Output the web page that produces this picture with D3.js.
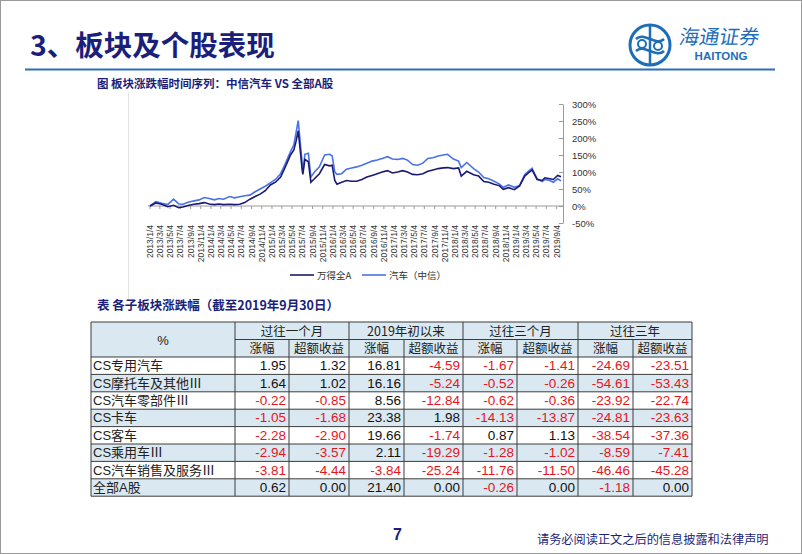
<!DOCTYPE html>
<html><head><meta charset="utf-8">
<script src="https://cdn.jsdelivr.net/npm/d3@7"></script>
<style>
body{margin:0;padding:0;background:#fff;}
svg{display:block;font-family:"Liberation Sans",Arial,"Noto Sans CJK SC",sans-serif;}
</style></head>
<body>
<svg id="c" width="802" height="554"></svg>
<script>
// ---------- DATA ----------
const dates = ["2013-01-04","2013-02-08","2013-03-15","2013-04-20","2013-05-25","2013-06-25","2013-07-20","2013-08-25","2013-09-25","2013-10-25","2013-11-25","2013-12-25",
"2014-01-25","2014-02-20","2014-03-20","2014-04-25","2014-05-25","2014-06-25","2014-07-25","2014-08-25","2014-09-25","2014-10-25","2014-11-25","2014-12-25",
"2015-01-25","2015-02-25","2015-03-25","2015-04-25","2015-05-15","2015-05-28","2015-06-10","2015-06-20","2015-07-03","2015-07-08","2015-07-20","2015-08-10","2015-08-25","2015-09-15","2015-10-15","2015-11-15","2015-12-15","2015-12-30",
"2016-01-15","2016-01-28","2016-02-25","2016-03-25","2016-04-25","2016-05-25","2016-06-25","2016-07-25","2016-08-25","2016-09-25","2016-10-25","2016-11-25","2016-12-25",
"2017-01-25","2017-02-25","2017-03-25","2017-04-25","2017-05-25","2017-06-25","2017-07-25","2017-08-25","2017-09-25","2017-10-25","2017-11-20","2017-12-25",
"2018-01-25","2018-02-10","2018-03-15","2018-04-25","2018-05-25","2018-06-25","2018-07-25","2018-08-25","2018-09-25","2018-10-20","2018-11-20","2018-12-25",
"2019-01-25","2019-02-25","2019-03-25","2019-04-10","2019-05-10","2019-06-10","2019-06-25","2019-07-25","2019-08-15","2019-09-10","2019-09-30"];
const windA = [0,9,5,-2,2,-5,-3,2,5,7,10,6,
4,6,4,5,4,5,10,20,28,35,45,62,
70,85,115,150,165,190,221,175,110,93,137,130,70,80,95,122,118,120,
75,64,70,75,73,73,78,85,90,95,100,104,97,
100,104,100,93,92,95,102,106,110,112,113,110,
112,88,102,92,88,72,70,64,60,49,54,48,
59,88,100,106,78,75,83,80,78,90,86];
const autoCS = [0,13,8,4,20,6,5,12,15,18,25,22,
18,22,20,28,24,27,30,32,42,50,58,68,
78,95,125,160,180,215,251,200,130,100,152,155,85,100,115,150,152,148,
100,93,95,108,112,115,120,126,132,135,140,145,138,
137,140,135,122,120,126,140,142,147,150,152,138,
132,113,128,110,100,84,80,73,65,55,62,55,
60,93,105,111,80,72,78,75,70,80,74];
const seriesNames = ["万得全A","汽车（中信）"];
const yTicks = [-50,0,50,100,150,200,250,300];
const xTickDates = [];
for (let y=2013;y<=2019;y++){ for (let m=1;m<=11;m+=2){ if(y===2019&&m>9) break; xTickDates.push(y+"/"+m+"/4"); } }

const rowNames = ["CS专用汽车","CS摩托车及其他Ⅲ","CS汽车零部件Ⅲ","CS卡车","CS客车","CS乘用车Ⅲ","CS汽车销售及服务Ⅲ","全部A股"];
const groupHeads = ["过往一个月","2019年初以来","过往三个月","过往三年"];
const subHeads = ["涨幅","超额收益"];
const m1Chg = [1.95,1.64,-0.22,-1.05,-2.28,-2.94,-3.81,0.62];
const m1Exc = [1.32,1.02,-0.85,-1.68,-2.90,-3.57,-4.44,0.00];
const ytdChg = [16.81,16.16,8.56,23.38,19.66,2.11,-3.84,21.40];
const ytdExc = [-4.59,-5.24,-12.84,1.98,-1.74,-19.29,-25.24,0.00];
const m3Chg = [-1.67,-0.52,-0.62,-14.13,0.87,-1.28,-11.76,-0.26];
const m3Exc = [-1.41,-0.26,-0.36,-13.87,1.13,-1.02,-11.50,0.00];
const y3Chg = [-24.69,-54.61,-23.92,-24.81,-38.54,-8.59,-46.46,-1.18];
const y3Exc = [-23.51,-53.43,-22.74,-23.63,-37.36,-7.41,-45.28,0.00];

// ---------- DRAW ----------
const svg = d3.select("#c");
const NAVY = "#1b1f7a";
const CJK = "'Noto Sans CJK SC',sans-serif";

svg.append("rect").attr("x",0.5).attr("y",0.5).attr("width",801).attr("height",553)
  .attr("fill","#fff").attr("stroke","#9a9a9a");

// page title
svg.append("text").attr("x",30).attr("y",56).attr("fill",NAVY)
  .attr("font-family",CJK).attr("font-weight",700).attr("font-size",28.5)
  .text("3、板块及个股表现");
svg.append("line").attr("x1",25).attr("x2",775).attr("y1",69.5).attr("y2",69.5)
  .attr("stroke","#2f6db5").attr("stroke-width",2.2);

// logo
const LB = "#1e6db8";
const lg = svg.append("g").attr("transform","translate(650,45)");
lg.append("circle").attr("r",20).attr("fill","none").attr("stroke",LB).attr("stroke-width",3);
lg.append("path").attr("d","M0,-20 L0,20").attr("stroke",LB).attr("stroke-width",2.5);
lg.append("path").attr("d","M-14,-6 C-6,-14 6,2 14,-6").attr("fill","none").attr("stroke",LB).attr("stroke-width",2.5);
lg.append("path").attr("d","M-14,6 C-6,-2 6,14 14,6").attr("fill","none").attr("stroke",LB).attr("stroke-width",2.5);
lg.append("circle").attr("cx",-8).attr("cy",-1).attr("r",4).attr("fill","none").attr("stroke",LB).attr("stroke-width",2);
lg.append("circle").attr("cx",8).attr("cy",1).attr("r",4).attr("fill","none").attr("stroke",LB).attr("stroke-width",2);
svg.append("text").attr("x",678).attr("y",44).attr("fill",LB)
  .attr("font-family",CJK).attr("font-weight",400).attr("font-size",20)
  .attr("transform","skewX(-10) translate(8,0)")
  .text("海通证券");
svg.append("text").attr("x",721).attr("y",60).attr("fill",LB).attr("text-anchor","middle")
  .attr("font-weight",700).attr("font-size",11.5).text("HAITONG");

// chart title
svg.append("text").attr("x",97).attr("y",88).attr("fill",NAVY)
  .attr("font-family",CJK).attr("font-weight",700).attr("font-size",11.5)
  .text("图 板块涨跌幅时间序列：中信汽车 VS 全部A股");

// faint frame line
svg.append("line").attr("x1",128.5).attr("x2",128.5).attr("y1",93).attr("y2",300)
  .attr("stroke","#e2e2e2");

const parse = d3.timeParse("%Y-%m-%d");
const parseTick = d3.timeParse("%Y/%m/%d");
const x = d3.scaleTime().domain([parse("2013-01-04"), parse("2019-09-30")]).range([150, 561]);
const y = d3.scaleLinear().domain([-50, 300]).range([223, 104]);

// y axis on the right
const yAx = svg.append("g").attr("transform","translate(563,0)")
  .call(d3.axisRight(y).tickValues(yTicks).tickFormat(d=>d+"%").tickSizeInner(-4).tickSizeOuter(0).tickPadding(9));
yAx.select(".domain").attr("stroke","#9a9a9a");
yAx.selectAll(".tick line").attr("stroke","#9a9a9a");
yAx.selectAll("text").attr("font-size",9.5).attr("fill","#333").attr("font-family","'Liberation Sans',Arial,sans-serif");

// x axis line at 0
svg.append("line").attr("x1",148).attr("x2",563).attr("y1",y(0)).attr("y2",y(0)).attr("stroke","#9a9a9a");
const xt = svg.append("g");
xTickDates.forEach(s=>{
  const px = x(parseTick(s));
  xt.append("line").attr("x1",px).attr("x2",px).attr("y1",y(0)).attr("y2",y(0)+3).attr("stroke","#9a9a9a");
  xt.append("text").attr("transform",`translate(${px+3},225) rotate(-90)`)
    .attr("text-anchor","end").attr("font-size",8.5).attr("fill","#333")
    .attr("font-family","'Liberation Sans',Arial,sans-serif").text(s);
});

const pts = dates.map(parse);
const line = d3.line().x((d,i)=>x(pts[i])).y(d=>y(d));
svg.append("path").datum(autoCS).attr("d",line).attr("fill","none").attr("stroke","#4a72e6").attr("stroke-width",1.6);
svg.append("path").datum(windA).attr("d",line).attr("fill","none").attr("stroke","#1a1a72").attr("stroke-width",1.6);

// legend
const legColors = ["#1a1a72","#4a72e6"];
const legX = [290, 362];
seriesNames.forEach((n,i)=>{
  svg.append("line").attr("x1",legX[i]).attr("x2",legX[i]+24).attr("y1",275).attr("y2",275)
    .attr("stroke",legColors[i]).attr("stroke-width",1.6);
  svg.append("text").attr("x",legX[i]+27).attr("y",278.5).attr("font-size",9.5).attr("fill","#333")
    .attr("font-family",CJK).text(n);
});

// table title
svg.append("text").attr("x",97).attr("y",310).attr("fill",NAVY)
  .attr("font-family",CJK).attr("font-weight",700).attr("font-size",12.5)
  .text("表 各子板块涨跌幅（截至2019年9月30日）");

// table
const colEdges = [91,235,289,349,404,463,517,578,633,692];
const hTop = 322, hMid = 339.5, hBot = 357, rowH = 17.4;
const FILL = "#dae8f1", GRID = "#3c3c3c";
const t = svg.append("g");
t.append("rect").attr("x",colEdges[0]).attr("y",hTop).attr("width",colEdges[9]-colEdges[0]).attr("height",hBot-hTop).attr("fill",FILL);
rowNames.forEach((r,i)=>{
  t.append("rect").attr("x",colEdges[0]).attr("y",hBot+i*rowH).attr("width",colEdges[9]-colEdges[0]).attr("height",rowH)
    .attr("fill", i%2===1 ? FILL : "#fff");
});
const cols = [m1Chg,m1Exc,ytdChg,ytdExc,m3Chg,m3Exc,y3Chg,y3Exc];
const tBot = hBot + rowNames.length*rowH;
for (let i=0;i<=rowNames.length;i++){
  t.append("line").attr("x1",colEdges[0]).attr("x2",colEdges[9]).attr("y1",hBot+i*rowH).attr("y2",hBot+i*rowH).attr("stroke",GRID).attr("stroke-width",1);
}
t.append("line").attr("x1",colEdges[0]).attr("x2",colEdges[9]).attr("y1",hTop).attr("y2",hTop).attr("stroke",GRID);
t.append("line").attr("x1",colEdges[1]).attr("x2",colEdges[9]).attr("y1",hMid).attr("y2",hMid).attr("stroke",GRID);
colEdges.forEach((cx,j)=>{
  const top = (j===0||j===1||j===3||j===5||j===7||j===9) ? hTop : hMid;
  t.append("line").attr("x1",cx).attr("x2",cx).attr("y1",top).attr("y2",tBot).attr("stroke",GRID);
});
t.append("text").attr("x",(colEdges[0]+colEdges[1])/2).attr("y",(hTop+hBot)/2+5).attr("text-anchor","middle")
  .attr("font-size",13).attr("fill","#222").text("%");
groupHeads.forEach((g,k)=>{
  t.append("text").attr("x",(colEdges[1+2*k]+colEdges[3+2*k])/2).attr("y",hMid-4).attr("text-anchor","middle")
    .attr("font-size",12.5).attr("fill","#222").attr("font-family",CJK).text(g);
  subHeads.forEach((s,m)=>{
    t.append("text").attr("x",(colEdges[1+2*k+m]+colEdges[2+2*k+m])/2).attr("y",hBot-4).attr("text-anchor","middle")
      .attr("font-size",12.5).attr("fill","#222").attr("font-family",CJK).text(s);
  });
});
rowNames.forEach((r,i)=>{
  const cy = hBot + i*rowH + rowH/2 + 4.5;
  t.append("text").attr("x",colEdges[0]+2).attr("y",cy).attr("font-size",13).attr("fill","#222")
    .attr("font-family","'Liberation Sans',Arial,'Noto Sans CJK SC',sans-serif").text(r);
  cols.forEach((c,j)=>{
    const v = c[i];
    t.append("text").attr("x",colEdges[j+2]-3).attr("y",cy).attr("text-anchor","end")
      .attr("font-size",13.5).attr("fill", v<0 ? "#e8141c" : "#111")
      .attr("font-family","'Liberation Sans',Arial,sans-serif").text(v.toFixed(2));
  });
});

// footer
svg.append("text").attr("x",393).attr("y",540).attr("fill",NAVY).attr("font-size",16).attr("font-weight",700).text("7");
svg.append("text").attr("x",537).attr("y",544).attr("fill",NAVY).attr("font-family",CJK).attr("font-size",12.2)
  .text("请务必阅读正文之后的信息披露和法律声明");
</script>
</body></html>
